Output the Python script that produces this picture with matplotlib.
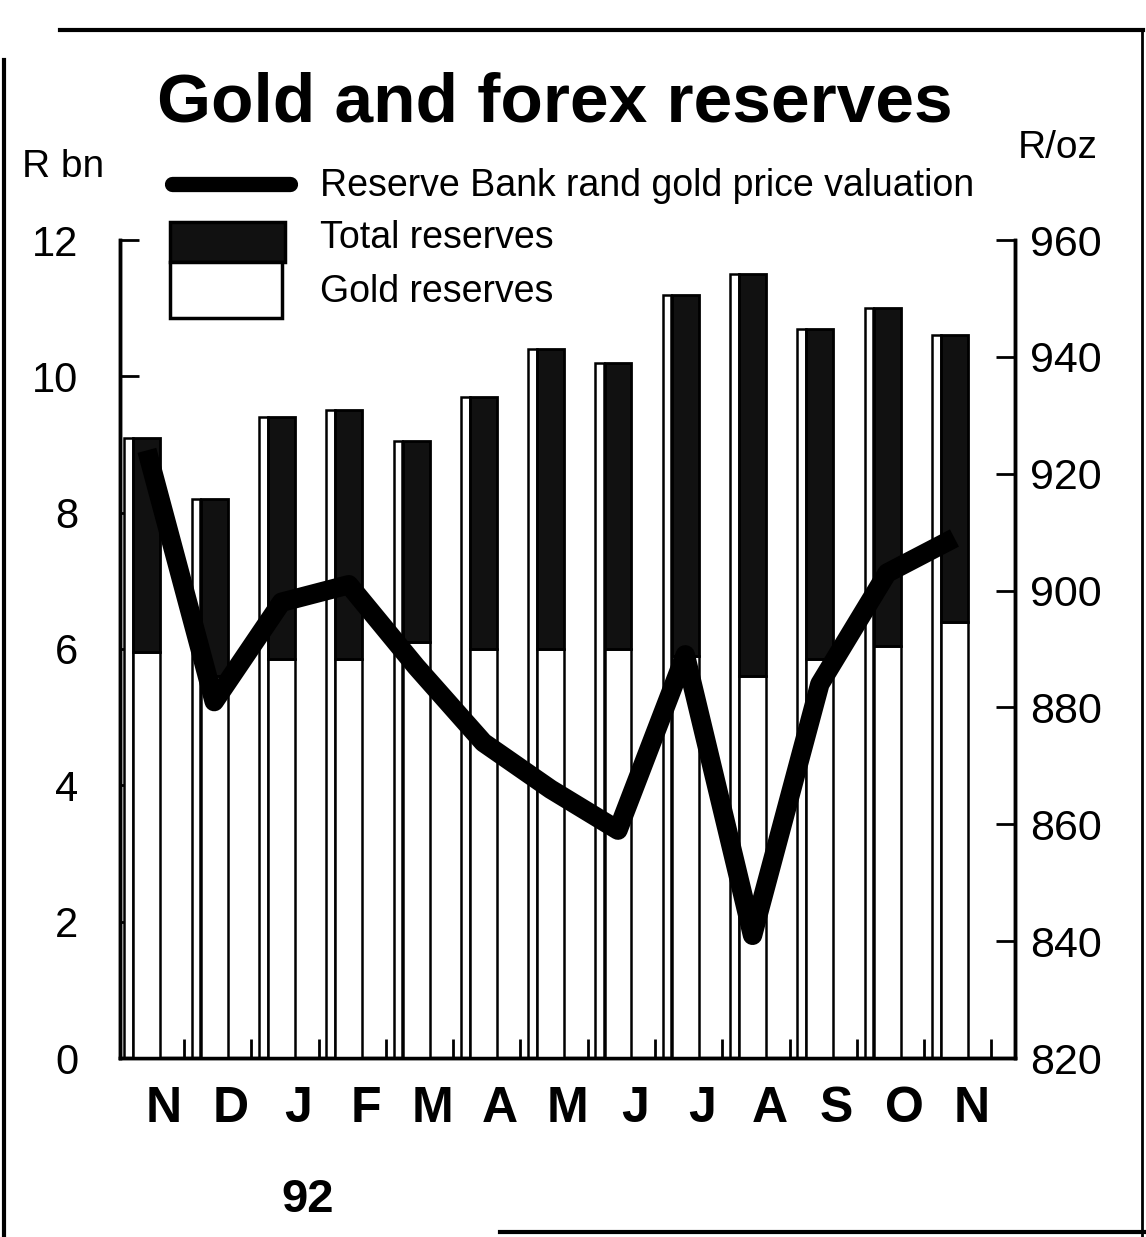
import numpy as np
import matplotlib
matplotlib.use('Agg')
import matplotlib.pyplot as plt
from matplotlib.patches import Rectangle
from matplotlib.lines import Line2D

# values (R bn / R per oz)
months = ['N', 'D', 'J', 'F', 'M', 'A', 'M', 'J', 'J', 'A', 'S', 'O', 'N']
total_reserves = [9.1, 8.2, 9.4, 9.5, 9.05, 9.7, 10.4, 10.2, 11.2, 11.5, 10.7, 11.0, 10.6]
gold_reserves = [5.95, 5.6, 5.85, 5.85, 6.1, 6.0, 6.0, 6.0, 5.9, 5.6, 5.85, 6.05, 6.4]
gold_price = [924, 881, 898, 901, 887, 874, 866, 859, 889, 841, 884, 903, 909]

left_ticks = [0, 2, 4, 6, 8, 10, 12]
right_ticks = [820, 840, 860, 880, 900, 920, 940, 960]

plt.rcParams['font.family'] = ['Liberation Sans', 'DejaVu Sans']
plt.rcParams['hatch.linewidth'] = 1.5
plt.rcParams['hatch.color'] = '#9a9a9a'

W, H = 1146, 1237
fig = plt.figure(figsize=(W / 100, H / 100), dpi=100)
fig.patch.set_facecolor('white')


def fx(px):
    return px / W


def fy(py):
    return 1 - py / H


ax_l, ax_r, ax_t, ax_b = 120, 1015, 240, 1058
ax = fig.add_axes([fx(ax_l), fy(ax_b), fx(ax_r - ax_l), fy(ax_t) - fy(ax_b)])
ax2 = ax.twinx()

x = np.arange(len(months))
total = np.array(total_reserves)
gold = np.array(gold_reserves)

# back (side) bars
ax.bar(x - 0.27, total, width=0.13, color='white', edgecolor='black',
       linewidth=1.8, zorder=2)
# gold portion
ax.bar(x, gold, width=0.4, color='white', edgecolor='black',
       linewidth=1.8, zorder=3)
# total reserves portion (dark, speckled)
ax.bar(x, total - gold, bottom=gold, width=0.4, color='#111111',
       hatch=':', linewidth=0, zorder=3)
ax.bar(x, total - gold, bottom=gold, width=0.4, fill=False,
       edgecolor='black', linewidth=2, zorder=3)

ax.set_xlim(-0.4, 12.9)
ax.set_ylim(0, 12)
ax2.set_ylim(820, 960)

ax2.plot(x, gold_price, color='black', linewidth=14, solid_capstyle='butt',
         zorder=5)

ax.set_yticks(left_ticks)
ax2.set_yticks(right_ticks)
ax.tick_params(axis='y', direction='in', length=14, width=2, pad=30,
               labelsize=30)
ax2.tick_params(axis='y', direction='in', length=14, width=2, pad=11,
                labelsize=31)

ax.set_xticks(x + 0.25)
ax.set_xticklabels(months, fontsize=36, fontweight='bold')
ax.tick_params(axis='x', length=0, pad=20)
ax.set_xticks(x + 0.55, minor=True)
ax.tick_params(axis='x', which='minor', direction='in', length=14, width=2)
ax2.tick_params(axis='x', which='both', length=0)

for a in (ax, ax2):
    a.spines['top'].set_visible(False)
    for s in ('left', 'right', 'bottom'):
        a.spines[s].set_linewidth(2.5)
ax2.patch.set_visible(False)

# titles and axis unit labels
fig.text(fx(555), fy(122), 'Gold and forex reserves', fontsize=50,
         fontweight='bold', ha='center', va='baseline')
fig.text(fx(22), fy(177), 'R bn', fontsize=28, ha='left', va='baseline')
fig.text(fx(1018), fy(158), 'R/oz', fontsize=28, ha='left', va='baseline')
fig.text(fx(308), fy(1200), '92', fontsize=34, fontweight='bold',
         ha='center', va='center')

# legend keys
fig.add_artist(Line2D([fx(172), fx(290)], [fy(184), fy(184)], color='black',
                      linewidth=11, solid_capstyle='round'))
fig.add_artist(Rectangle((fx(170), fy(262)), fx(115), fy(222) - fy(262),
                         facecolor='#111111', hatch=':', linewidth=0))
fig.add_artist(Rectangle((fx(170), fy(262)), fx(115), fy(222) - fy(262),
                         fill=False, edgecolor='black', linewidth=2.5))
fig.add_artist(Rectangle((fx(170), fy(318)), fx(112), fy(262) - fy(318),
                         facecolor='white', edgecolor='black', linewidth=2.5))
fig.text(fx(320), fy(186), 'Reserve Bank rand gold price valuation',
         fontsize=27, ha='left', va='center')
fig.text(fx(320), fy(238), 'Total reserves', fontsize=27,
         ha='left', va='center')
fig.text(fx(320), fy(292), 'Gold reserves', fontsize=27,
         ha='left', va='center')

# outer frame of the clipping
fig.add_artist(Line2D([fx(60), fx(1143)], [fy(30), fy(30)], color='black',
                      linewidth=3))
fig.add_artist(Line2D([fx(4), fx(4)], [fy(60), fy(1237)], color='black',
                      linewidth=3))
fig.add_artist(Line2D([fx(1142), fx(1142)], [fy(30), fy(1237)],
                      color='black', linewidth=2))
fig.add_artist(Line2D([fx(500), fx(1146)], [fy(1232), fy(1232)],
                      color='black', linewidth=3))

fig.savefig('out.png', dpi=100, facecolor='white')
